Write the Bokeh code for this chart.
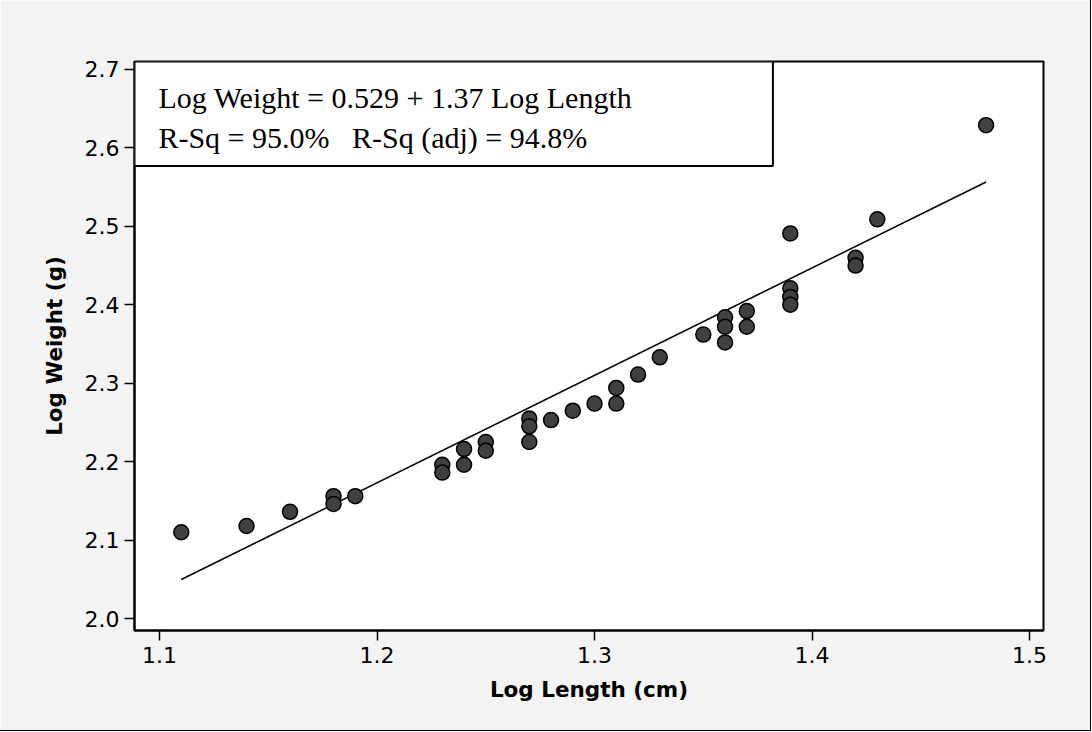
from bokeh.plotting import figure
from bokeh.models import Label, BoxAnnotation, FixedTicker, Range1d, PrintfTickFormatter
from bokeh.embed import file_html
from bokeh.resources import INLINE

# ---- data ----
log_length = [1.11, 1.14, 1.16, 1.18, 1.18, 1.19,
              1.23, 1.23, 1.24, 1.24, 1.25, 1.25,
              1.27, 1.27, 1.27, 1.28, 1.29, 1.30, 1.31, 1.31,
              1.32, 1.33, 1.35, 1.36, 1.36, 1.36, 1.37, 1.37,
              1.39, 1.39, 1.39, 1.39, 1.42, 1.42, 1.43, 1.48]
log_weight = [2.110, 2.118, 2.136, 2.156, 2.146, 2.156,
              2.196, 2.186, 2.216, 2.196, 2.225, 2.214,
              2.255, 2.245, 2.225, 2.253, 2.265, 2.274, 2.294, 2.274,
              2.311, 2.333, 2.362, 2.384, 2.372, 2.352, 2.392, 2.372,
              2.421, 2.410, 2.400, 2.491, 2.460, 2.450, 2.509, 2.629]
intercept = 0.529
slope = 1.37
eq_text = "Log Weight = 0.529 + 1.37 Log Length"
rsq_text = "R-Sq = 95.0%\u00a0\u00a0\u00a0R-Sq (adj) = 94.8%"
x_ticks = [1.1, 1.2, 1.3, 1.4, 1.5]
y_ticks = [2.0, 2.1, 2.2, 2.3, 2.4, 2.5, 2.6, 2.7]

p = figure(width=1090, height=730, output_backend="svg", toolbar_location=None,
           x_range=Range1d(1.0885, 1.5064), y_range=Range1d(1.9847, 2.7102),
           min_border_left=134, min_border_right=47, min_border_top=61, min_border_bottom=100)

p.background_fill_color = "white"
p.border_fill_color = "#f3f3f3"
p.outline_line_color = "black"
p.outline_line_width = 2
p.grid.visible = False
p.styles = {"outline": "1px solid black"}

for ax in (p.xaxis[0], p.yaxis[0]):
    ax.axis_line_color = "black"
    ax.axis_line_width = 2
    ax.major_tick_line_color = "black"
    ax.major_tick_line_width = 1.5
    ax.major_tick_out = 10
    ax.major_tick_in = 0
    ax.minor_tick_line_color = None
    ax.major_label_text_font = "DejaVu Sans"
    ax.major_label_text_font_size = "22px"
    ax.major_label_text_color = "black"
    ax.axis_label_text_font = "DejaVu Sans"
    ax.axis_label_text_font_style = "bold"
    ax.axis_label_text_font_size = "21.5px"
    ax.axis_label_text_color = "black"
    ax.formatter = PrintfTickFormatter(format="%.1f")

p.xaxis.ticker = FixedTicker(ticks=x_ticks)
p.yaxis.ticker = FixedTicker(ticks=y_ticks)
p.xaxis.axis_label = "Log Length (cm)"
p.yaxis.axis_label = "Log Weight (g)"
p.xaxis.major_label_standoff = 6
p.yaxis.major_label_standoff = 5
p.xaxis.axis_label_standoff = 11
p.yaxis.axis_label_standoff = 15

# fitted line across the range of the data
x0, x1 = min(log_length), max(log_length)
p.line([x0, x1], [intercept + slope * x0, intercept + slope * x1],
       line_color="black", line_width=1.5)

p.scatter(log_length, log_weight, size=15, fill_color="#404040",
          line_color="black", line_width=1.5)

box = BoxAnnotation(right=1.382, bottom=2.577, fill_color="white", fill_alpha=1.0,
                    line_color="black", line_width=2, line_alpha=1.0)
p.add_layout(box)

p.add_layout(Label(x=1.0995, y=2.664, text=eq_text, text_font="Liberation Serif",
                   text_font_size="30px", text_color="black", text_baseline="alphabetic"))
p.add_layout(Label(x=1.0995, y=2.613, text=rsq_text, text_font="Liberation Serif",
                   text_font_size="30px", text_color="black", text_baseline="alphabetic"))

open("out.html", "w").write(file_html(p, INLINE))
